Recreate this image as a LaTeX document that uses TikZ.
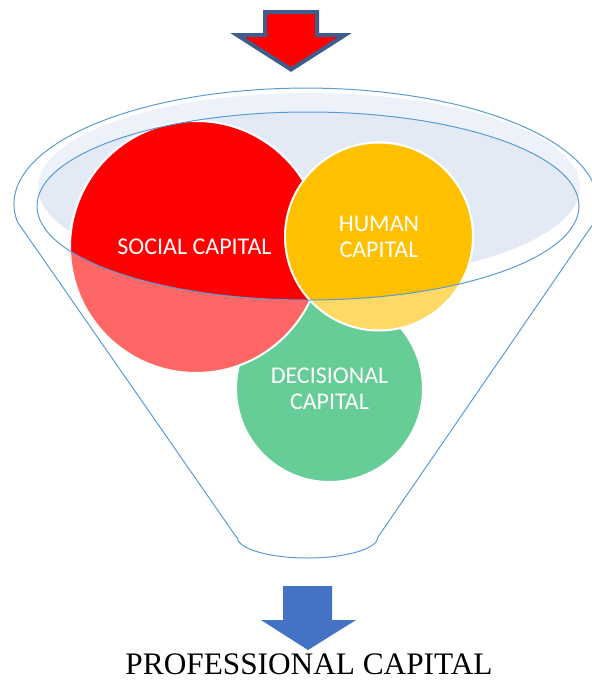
\documentclass[tikz,border=0pt]{standalone}
\usepackage{fontspec}
\setmainfont{Liberation Serif}
\newfontfamily\carlito{Carlito}
\definecolor{funnelline}{HTML}{5B9BD5}
\definecolor{rimlight}{HTML}{EDF1F9}
\definecolor{rimdark}{HTML}{E3EAF5}
\definecolor{greenc}{HTML}{66CD97}
\definecolor{redfull}{HTML}{FF0000}
\definecolor{redlight}{HTML}{FF6666}
\definecolor{orangefull}{HTML}{FFC000}
\definecolor{orangelight}{HTML}{FFD966}
\definecolor{arrowoutline}{HTML}{3E5D8C}
\definecolor{arrowblue}{HTML}{4472C4}
\tikzset{
  circ/.style={draw=white, line width=2pt},
  funnel/.style={draw=funnelline, line width=1pt},
  lab/.style={text=white, inner sep=0pt, font=\carlito\fontsize{24}{26.6}\selectfont},
}
\begin{document}
\begin{tikzpicture}[x=1pt,y=-1pt,line join=round]
\useasboundingbox (0,0) rectangle (592,681);
% inner surface of the funnel
\fill[rimlight] (309,187) ellipse[x radius=271,y radius=94];
\begin{scope}
  \clip (308,206) ellipse[x radius=271,y radius=94];
  \fill[rimdark] (309,187) ellipse[x radius=271,y radius=94];
\end{scope}
% circles, lighter parts
\path[circ, fill=greenc] (329.5,388.5) circle[radius=93.5];
\path[circ, fill=redlight] (196,247) circle[radius=126];
\path[circ, fill=orangelight] (379,236.5) circle[radius=94];
% circles, full colour inside the rim
\begin{scope}
  \clip (308,206) ellipse[x radius=271,y radius=94];
  \path[circ, fill=redfull] (196,247) circle[radius=126];
  \path[circ, fill=orangefull] (379,236.5) circle[radius=94];
\end{scope}
% funnel outlines
\draw[funnel] (308,206) ellipse[x radius=271,y radius=94];
\draw[funnel] (237,538) -- (17.5,222)
  arc[start angle=171.1,end angle=368.9,x radius=292,y radius=116]
  -- (378,537)
  arc[start angle=0,end angle=180,x radius=70.5,y radius=21] -- cycle;
% top arrow
\filldraw[fill=redfull, draw=arrowoutline, line width=4pt, line join=miter]
  (265,12) -- (317,12) -- (317,35) -- (345,35) -- (291,69.5) -- (237,35) -- (265,35) -- cycle;
% bottom arrow
\fill[arrowblue] (283,586) -- (332,586) -- (332,620) -- (356,620) -- (308,650) -- (261,620) -- (283,620) -- cycle;
% labels
\node[lab, anchor=base] (social) at (194.5,254) {SOCIAL CAPITAL};
\node[lab, align=center] (human) at (379,237) {HUMAN\\CAPITAL};
\node[lab, align=center] (decisional) at (329.5,388.8) {DECISIONAL\\CAPITAL};
\node[inner sep=0pt, anchor=base, font=\fontsize{31.3}{36}\selectfont] (prof) at (309,674) {PROFESSIONAL CAPITAL};
\end{tikzpicture}
\end{document}
